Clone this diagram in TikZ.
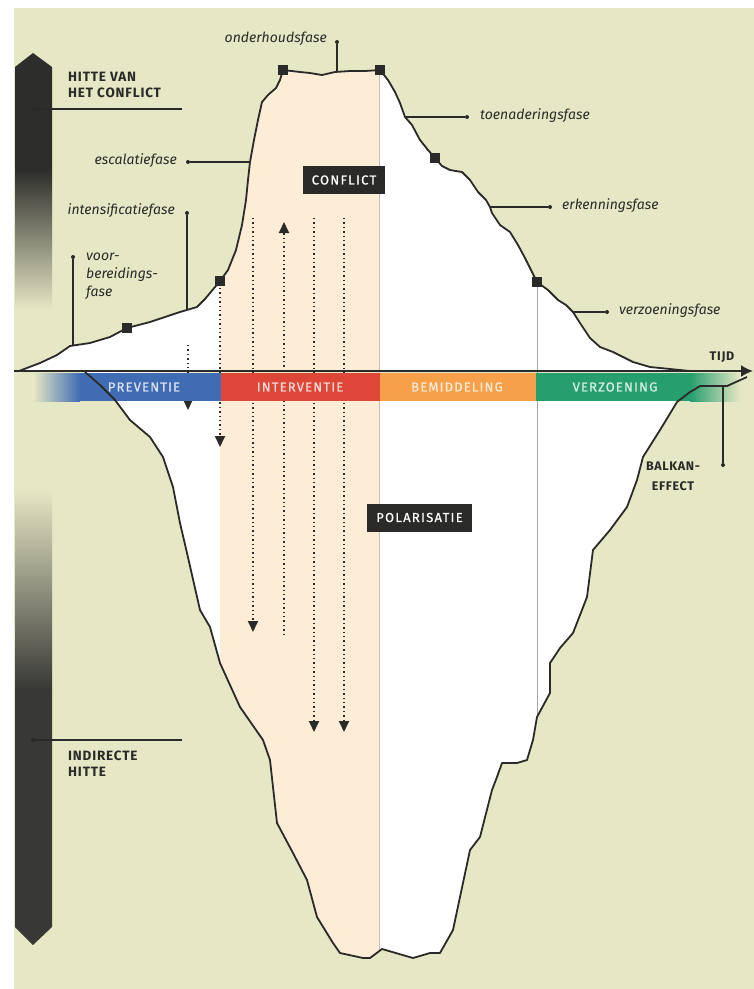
\documentclass[tikz,border=0pt]{standalone}
\usepackage{fontspec}
\setmainfont{Fira Sans}
\usetikzlibrary{arrows.meta,positioning}
\definecolor{paper}{RGB}{230,231,196}
\definecolor{peach}{RGB}{253,236,214}
\definecolor{ink}{RGB}{42,42,40}
\definecolor{barink}{RGB}{45,45,43}
\definecolor{prevblue}{RGB}{64,108,180}
\definecolor{intred}{RGB}{222,70,56}
\definecolor{bemorange}{RGB}{247,160,74}
\definecolor{verzgreen}{RGB}{38,158,110}
\tikzset{
  phase/.style={font=\fontsize{14}{17}\selectfont\itshape,inner sep=0pt,text=ink},
  caps/.style={font=\fontsize{13.5}{16}\selectfont\bfseries\addfontfeature{LetterSpace=6},inner sep=0pt,align=left,text=ink},
  tag/.style={fill=ink,text=white,minimum height=28pt,inner xsep=9pt,
    font=\fontsize{13}{14}\selectfont\addfontfeature{LetterSpace=10,FakeBold=0.6}},
  bandlabel/.style={font=\fontsize{13}{14}\selectfont\addfontfeature{LetterSpace=9,FakeBold=0.6},inner sep=0pt},
  pointer/.style={ink,line width=1.1pt},
  pin/.style={circle,fill=ink,inner sep=0pt,minimum size=4pt},
  corner/.style={fill=ink,minimum size=10pt,inner sep=0pt},
  flow/.style={ink,line width=1.8pt,dash pattern=on 1.4pt off 3pt,-{Triangle[length=11pt,width=10pt]}},
  outline/.style={ink,line width=1.8pt,line join=round}
}
% outline of the iceberg, above and below the time axis
\def\icetop{(19,371) -- (40,363) -- (57,355) -- (70,346) -- (90,343) -- (110,337)
  -- (127,328) -- (150,322) -- (180,312) -- (197,307) -- (205,299) -- (220,281)
  -- (228,270) -- (236,250) -- (242,225) -- (246,200) -- (248,180) -- (250,162)
  -- (254,140) -- (258,120) -- (262,102) -- (268,95) -- (276,88) -- (280,80)
  -- (283,70) -- (300,72) -- (310,73) -- (322,75) -- (335,72) -- (350,71)
  -- (365,71) -- (380,70) -- (388,80) -- (395,92) -- (400,103) -- (405,117)
  -- (412,125) -- (420,140) -- (428,150) -- (435,158) -- (442,166) -- (450,170)
  -- (462,172) -- (470,180) -- (478,192) -- (486,200) -- (490,207) -- (492,213)
  -- (500,225) -- (510,232) -- (518,245) -- (525,258) -- (532,272) -- (537,282)
  -- (548,290) -- (558,300) -- (566,305) -- (573,312) -- (580,323) -- (590,338)
  -- (600,347) -- (613,352) -- (633,362) -- (650,367) -- (670,369) -- (690,371)}
\def\icebottom{(85,372) -- (100,385) -- (115,400) -- (130,420) -- (150,437)
  -- (163,457) -- (173,487) -- (180,523) -- (187,553) -- (200,610) -- (210,627)
  -- (220,663) -- (240,707) -- (263,740) -- (270,760) -- (277,823) -- (293,853)
  -- (307,880) -- (317,917) -- (333,943) -- (340,953) -- (363,958) -- (370,958)
  -- (382,949) -- (413,958) -- (430,953) -- (440,953) -- (453,930) -- (460,897)
  -- (470,850) -- (480,837) -- (492,790) -- (497,777) -- (502,763) -- (517,763)
  -- (527,760) -- (533,740) -- (537,717) -- (550,693) -- (550,663) -- (560,648)
  -- (573,633) -- (580,615) -- (587,597) -- (593,550) -- (610,530) -- (627,507)
  -- (637,480) -- (643,457) -- (660,430) -- (677,402) -- (690,392) -- (700,386)
  -- (727,386) -- (747,377)}

\begin{document}
\begin{tikzpicture}[x=1pt,y=-1pt]
\useasboundingbox (0,0) rectangle (754,989);
\fill[white] (0,0) rectangle (754,989);
\fill[paper] (14,8) rectangle (754,989);

% white body, peach intervention strip
\fill[white] \icetop -- cycle;
\fill[white] \icebottom -- cycle;
\begin{scope}
  \clip (220,0) rectangle (379,989);
  \fill[peach] \icetop -- cycle;
  \fill[peach] \icebottom -- cycle;
\end{scope}
\draw[black!25,line width=0.6pt] (379,72) -- (379,950);
\draw[black!35,line width=0.6pt] (537,282) -- (537,717);

% dotted arrows
\coordinate (a1) at (188,345); \coordinate (b1) at (188,410);
\coordinate (a2) at (220,288); \coordinate (b2) at (220,447);
\coordinate (a3) at (253,218); \coordinate (b3) at (253,632);
\coordinate (a4) at (284,635); \coordinate (b4) at (284,222);
\coordinate (a5) at (314,218); \coordinate (b5) at (314,732);
\coordinate (a6) at (344,218); \coordinate (b6) at (344,732);
\foreach \i in {1,...,6}
  \draw[flow] (a\i) -- (b\i);

% band of the four phases
\shade[left color=paper,right color=prevblue] (33,373) rectangle (80,401);
\fill[prevblue] (80,373) rectangle (221,401);
\fill[intred] (221,373) rectangle (380,401);
\fill[bemorange] (380,373) rectangle (536,401);
\fill[verzgreen] (536,373) rectangle (690,401);
\shade[left color=verzgreen,right color=paper] (690,373) rectangle (740,401);
\node[bandlabel,text=white!82!prevblue] (prev) at (144,387) {PREVENTIE};
\node[bandlabel,text=white!80!intred] (inter) at (300,387) {INTERVENTIE};
\node[bandlabel,text=white!78!bemorange] (bemid) at (457,387) {BEMIDDELING};
\node[bandlabel,text=white!82!verzgreen] (verz) at (615,387) {VERZOENING};

% time axis
\coordinate (tstart) at (14,371);
\coordinate (tend) at (753,371);
\draw[ink,line width=2pt,-{Latex[length=12pt,width=12pt]}] (tstart) -- (tend);
\node[caps,font=\fontsize{12.5}{14}\selectfont\bfseries\addfontfeature{LetterSpace=6}] (tijd) at (722,357) {TIJD};

\draw[outline] \icetop;
\draw[outline] \icebottom;

% phase corners
\foreach \p/\q [count=\k] in {127/328,220/281,283/70,380/70,435/158,537/282}
  \node[corner] (c\k) at (\p,\q) {};

% boxes
\node[tag] (conflict) at (344,180) {CONFLICT};
\node[tag] (polar) at (419.5,517.5) {POLARISATIE};

% phase labels with pointers
\node[phase,anchor=east] (onder) at (327,39) {onderhoudsfase};
\node[pin] (onderpin) at (337,42) {};
\coordinate (onderfoot) at (337,72);
\draw[pointer] (onderpin) -- (onderfoot);

\node[phase,anchor=east] (escal) at (177,161) {escalatiefase};
\node[pin] (escalpin) at (188,162) {};
\coordinate (escalfoot) at (250,162);
\draw[pointer] (escalpin) -- (escalfoot);

\node[phase,anchor=east] (intens) at (175,211) {intensificatiefase};
\node[pin] (intenspin) at (187,213) {};
\coordinate (intensfoot) at (187,310);
\draw[pointer] (intenspin) -- (intensfoot);

\node[phase,anchor=north west,align=left,font=\fontsize{14}{18}\selectfont\itshape] (voor) at (86,253) {voor-\\bereidings-\\fase};
\node[pin] (voorpin) at (73,257) {};
\coordinate (voorfoot) at (73,345);
\draw[pointer] (voorpin) -- (voorfoot);

\node[phase,anchor=west] (toen) at (480,116) {toenaderingsfase};
\node[pin] (toenpin) at (467,117) {};
\coordinate (toenfoot) at (405,117);
\draw[pointer] (toenfoot) -- (toenpin);

\node[phase,anchor=west] (erk) at (562,206) {erkenningsfase};
\node[pin] (erkpin) at (550,207) {};
\coordinate (erkfoot) at (490,207);
\draw[pointer] (erkfoot) -- (erkpin);

\node[phase,anchor=west] (verzf) at (619,311) {verzoeningsfase};
\node[pin] (verzpin) at (607,312) {};
\coordinate (verzfoot) at (573,312);
\draw[pointer] (verzfoot) -- (verzpin);

\node[caps,align=center,font=\fontsize{12.5}{20}\selectfont\bfseries\addfontfeature{LetterSpace=5}] (balkan) at (673,476) {BALKAN-\\EFFECT};
\node[pin] (balkpin) at (723,465) {};
\coordinate (balkfoot) at (723,386);
\draw[pointer] (balkfoot) -- (balkpin);

% heat bar
\begin{scope}
  \clip (15,67) -- (33,53) -- (52,67) -- (52,927) -- (33,945) -- (15,927) -- cycle;
  \fill[barink] (0,40) rectangle (60,170);
  \shade[top color=barink,bottom color=paper] (0,170) rectangle (60,310);
  \shade[top color=paper,bottom color=barink!95] (0,490) rectangle (60,690);
  \fill[barink!95] (0,690) rectangle (60,960);
\end{scope}
\node[caps,anchor=north west] (hot) at (68,72) {HITTE VAN\\HET CONFLICT};
\node[pin] (hotpin) at (33,109) {};
\coordinate (hotend) at (182,109);
\draw[pointer] (hotpin) -- (hotend);

\node[caps,anchor=north west] (cold) at (68,751) {INDIRECTE\\HITTE};
\node[pin] (coldpin) at (33,740) {};
\coordinate (coldend) at (182,740);
\draw[pointer] (coldpin) -- (coldend);
\end{tikzpicture}
\end{document}
